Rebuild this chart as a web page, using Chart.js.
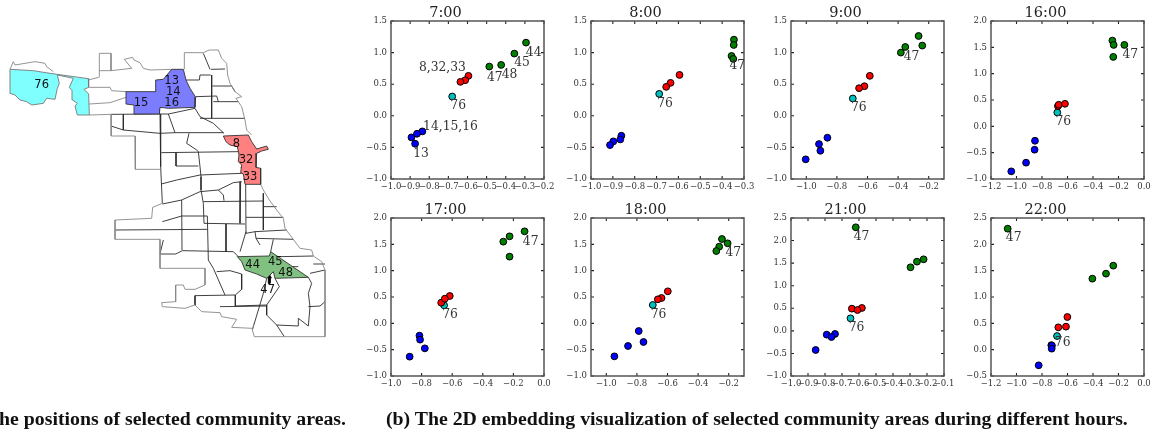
<!DOCTYPE html>
<html>
<head>
<meta charset="utf-8">
<title>Community areas</title>
<script src="https://cdn.jsdelivr.net/npm/chart.js@4"></script>
<style>
  html, body { margin: 0; padding: 0; background: #fff; overflow: hidden; }
  #page { position: relative; width: 1153px; height: 431px; overflow: hidden; }
  canvas { position: absolute; }
  .caption { position: absolute; top: 408px; font: bold 19.8px/20px "Liberation Serif", serif; color: #111; white-space: nowrap; }
</style>
</head>
<body>
<div id="page">
  <canvas id="map" width="360" height="431" style="left:0;top:0"></canvas>
  <div class="caption" style="right:807px">(a) The positions of selected community areas.</div>
  <div class="caption" style="left:386px">(b) The 2D embedding visualization of selected community areas during different hours.</div>
</div>
<script>
// Часы и оси панелей
const hours = ['7:00', '8:00', '9:00', '16:00', '17:00', '18:00', '21:00', '22:00'];
const xLimits = [[-1, -0.2], [-1, -0.3], [-1.1, -0.1], [-1.2, 0], [-1, 0], [-1.1, -0.1], [-1, -0.1], [-1.2, 0]];
const yLimits = [[-1, 1.5], [-1, 1.5], [-1, 1.5], [-1, 2], [-1, 2], [-1, 2], [-1, 2.5], [-0.5, 2.5]];
const xTicks = [
    [-1, -0.9, -0.8, -0.7, -0.6, -0.5, -0.4, -0.3, -0.2],
    [-1, -0.9, -0.8, -0.7, -0.6, -0.5, -0.4, -0.3],
    [-1, -0.8, -0.6, -0.4, -0.2],
    [-1.2, -1, -0.8, -0.6, -0.4, -0.2, 0],
    [-1, -0.8, -0.6, -0.4, -0.2, 0],
    [-1, -0.8, -0.6, -0.4, -0.2],
    [-1, -0.9, -0.8, -0.7, -0.6, -0.5, -0.4, -0.3, -0.2, -0.1],
    [-1.2, -1, -0.8, -0.6, -0.4, -0.2, 0]
];
const yTicks = [
    [-1, -0.5, 0, 0.5, 1, 1.5],
    [-1, -0.5, 0, 0.5, 1, 1.5],
    [-1, -0.5, 0, 0.5, 1, 1.5],
    [-1, -0.5, 0, 0.5, 1, 1.5, 2],
    [-1, -0.5, 0, 0.5, 1, 1.5, 2],
    [-1, -0.5, 0, 0.5, 1, 1.5, 2],
    [-1, -0.5, 0, 0.5, 1, 1.5, 2, 2.5],
    [-0.5, 0, 0.5, 1, 1.5, 2, 2.5]
];

// Точки по группам районов
const blueAreas = [
    [[-0.836, -0.247], [-0.864, -0.284], [-0.893, -0.342], [-0.874, -0.442]],
    [[-0.861, -0.316], [-0.866, -0.374], [-0.898, -0.405], [-0.913, -0.463]],
    [[-0.862, -0.347], [-0.917, -0.447], [-0.908, -0.553], [-1.004, -0.689]],
    [[-0.855, -0.274], [-0.858, -0.444], [-0.925, -0.69], [-1.041, -0.855]],
    [[-0.814, -0.234], [-0.81, -0.31], [-0.779, -0.475], [-0.878, -0.633]],
    [[-0.788, -0.146], [-0.757, -0.354], [-0.858, -0.43], [-0.947, -0.627]],
    [[-0.741, -0.069], [-0.79, -0.084], [-0.762, -0.136], [-0.855, -0.424]],
    [[-0.727, 0.085], [-0.722, 0.078], [-0.724, 0.019], [-0.826, -0.297]]
];
const redAreas = [
    [[-0.595, 0.632], [-0.612, 0.563], [-0.637, 0.537]],
    [[-0.595, 0.647], [-0.636, 0.521], [-0.656, 0.458]],
    [[-0.585, 0.632], [-0.62, 0.468], [-0.655, 0.437]],
    [[-0.675, 0.383], [-0.669, 0.409], [-0.62, 0.428]],
    [[-0.616, 0.519], [-0.672, 0.392], [-0.648, 0.468]],
    [[-0.598, 0.608], [-0.639, 0.481], [-0.663, 0.456]],
    [[-0.583, 0.507], [-0.642, 0.492], [-0.609, 0.462]],
    [[-0.601, 0.62], [-0.612, 0.437], [-0.672, 0.424]]
];
const cyanAreas = [
    [[-0.68, 0.305]], [[-0.688, 0.347]], [[-0.696, 0.274]], [[-0.68, 0.263]],
    [[-0.653, 0.342]], [[-0.696, 0.348]], [[-0.65, 0.278]], [[-0.682, 0.259]]
];
const greenAreas = [
    [[-0.294, 1.158], [-0.355, 0.984], [-0.424, 0.805], [-0.486, 0.779]],
    [[-0.346, 1.205], [-0.347, 1.121], [-0.357, 0.947], [-0.349, 0.9]],
    [[-0.266, 1.263], [-0.242, 1.111], [-0.353, 1.089], [-0.382, 1.0]],
    [[-0.248, 1.628], [-0.238, 1.546], [-0.154, 1.546], [-0.241, 1.318]],
    [[-0.127, 1.747], [-0.225, 1.652], [-0.266, 1.551], [-0.225, 1.266]],
    [[-0.244, 1.601], [-0.207, 1.519], [-0.262, 1.456], [-0.281, 1.373]],
    [[-0.619, 2.294], [-0.22, 1.585], [-0.259, 1.533], [-0.297, 1.408]],
    [[-1.069, 2.297], [-0.241, 1.595], [-0.298, 1.443], [-0.405, 1.348]]
];
// Подписи точек: текст, x, y в координатах панели
const pointNotes = [
    [['44', -0.254, 0.995], ['45', -0.315, 0.837], ['47', -0.457, 0.605], ['48', -0.38, 0.647],
     ['8,32,33', -0.731, 0.758], ['76', -0.649, 0.158], ['14,15,16', -0.689, -0.174], ['13', -0.843, -0.6]],
    [['47', -0.331, 0.789], ['76', -0.661, 0.189]],
    [['47', -0.312, 0.926], ['76', -0.657, 0.126]],
    [['47', -0.107, 1.356], ['76', -0.633, 0.087]],
    [['47', -0.087, 1.557], ['76', -0.614, 0.158]],
    [['47', -0.17, 1.342], ['76', -0.659, 0.158]],
    [['47', -0.585, 2.08], ['76', -0.615, 0.064]],
    [['47', -1.022, 2.12], ['76', -0.638, 0.139]]
];

// Карта: контуры в условных единицах карты (0..1080, 0..1293)
const mapCyan = [[30,208],[100,212],[150,220],[265,236],[266,262],[252,268],[266,282],[268,345],[232,345],[225,318],[232,310],[218,300],[216,272],[208,262],[220,235],[172,225],[178,250],[172,265],[165,298],[140,295],[130,310],[95,315],[80,305],[60,300],[45,285],[30,280],[30,208]];
const mapBlue = [[515,208],[550,208],[558,240],[570,265],[587,292],[585,322],[505,325],[480,322],[478,342],[402,342],[402,315],[378,312],[378,275],[465,275],[467,240],[490,238],[515,208]];
const mapRed = [[670,408],[745,405],[755,425],[770,447],[800,438],[805,448],[785,453],[770,460],[768,502],[782,505],[782,553],[735,553],[730,522],[722,518],[725,495],[715,485],[717,462],[712,440],[690,435],[678,425],[670,408]];
const mapGreen = [[712,770],[808,768],[812,755],[925,832],[825,835],[820,815],[800,835],[770,822],[735,810],[725,785],[712,770]];
const mapOuter = [
    [[298,232],[298,160],[333,160],[333,212],[298,212]],
    [[296,232],[265,240]],
    [[333,212],[395,205],[373,178],[398,172],[402,180],[420,188],[430,205],[450,210],[515,208]],
    [[553,208],[553,158],[610,158],[628,150],[655,150],[665,175],[680,190],[683,225],[690,250],[705,275],[725,290],[708,295],[725,320],[735,360],[740,390],[755,405]],
    [[782,553],[790,570],[808,600],[830,630],[850,655],[855,685],[870,705],[900,745],[935,750],[940,768],[965,785],[975,810],[975,1010],[763,1010],[757,990],[762,970]],
    [[268,345],[333,343],[333,378],[334,408],[405,408],[406,508],[484,508]],
    [[487,610],[458,622],[455,655],[345,660],[345,718],[480,718],[480,805],[615,805],[615,855],[585,868],[555,868],[550,855],[527,855],[527,905],[485,908],[487,920],[555,925],[585,915],[605,935],[660,938],[665,950],[710,958],[695,982],[757,985]],
    [[30,208],[40,185],[45,195],[105,185],[135,190],[140,200],[160,215]],
    [[268,262],[330,262],[335,272],[378,275]],
    [[268,312],[330,308],[378,292]]
];
const mapInner = [
    [[333,343],[480,342],[505,342],[585,325]],
    [[370,343],[370,390]],
    [[333,378],[370,390],[480,400],[525,398],[670,398]],
    [[480,342],[482,500],[487,610]],
    [[505,342],[525,398]],
    [[585,325],[600,350],[640,370],[672,400]],
    [[600,355],[735,355]],
    [[635,225],[635,355]],
    [[633,208],[675,207]],
    [[637,258],[695,258],[705,275]],
    [[640,305],[715,305]],
    [[587,290],[650,288],[655,305]],
    [[558,240],[598,240],[600,225],[632,225]],
    [[630,208],[610,160]],
    [[567,400],[560,430],[590,450],[595,455],[600,500],[603,530],[603,570],[610,610],[612,670]],
    [[484,458],[715,455]],
    [[528,458],[528,498],[595,498]],
    [[484,552],[530,540],[600,525],[725,520]],
    [[487,612],[545,600],[600,575],[655,570],[700,548],[725,545]],
    [[655,570],[670,585],[672,602]],
    [[610,605],[790,603]],
    [[722,545],[720,670]],
    [[737,553],[738,700]],
    [[790,580],[790,690]],
    [[790,620],[830,620]],
    [[738,652],[850,652]],
    [[612,670],[735,672]],
    [[545,600],[546,750]],
    [[487,665],[545,648],[622,648]],
    [[622,648],[625,780],[640,805],[675,885]],
    [[345,690],[622,688]],
    [[678,672],[678,755]],
    [[490,720],[480,762],[527,762],[547,752],[700,755],[715,770]],
    [[738,695],[720,755]],
    [[738,700],[765,695],[860,690]],
    [[765,695],[768,715],[780,735]],
    [[768,715],[880,718]],
    [[820,718],[812,755]],
    [[840,770],[940,768]],
    [[650,815],[690,812],[725,822],[725,868],[706,885],[585,887]],
    [[706,885],[706,918],[800,915]],
    [[585,887],[585,915]],
    [[660,920],[800,918]],
    [[800,835],[790,880],[757,990]],
    [[825,835],[838,860],[800,915],[800,945],[830,975],[853,1010]],
    [[830,975],[895,978],[895,955],[925,978]],
    [[925,832],[935,850],[925,880],[930,920],[925,978]],
    [[930,820],[975,810]],
    [[925,920],[960,918],[975,905]],
    [[940,792],[975,792]],
    [[467,258],[500,258],[530,268],[565,258]],
    [[467,275],[500,292],[587,292]],
    [[480,295],[478,342]],
    [[715,460],[780,455]],
    [[722,503],[770,502]],
    [[808,768],[800,832]],
    [[820,800],[895,800]],
    [[812,770],[835,835]]
];
const mapArrow = [[804,850],[805,832],[802,834],[808,822],[814,834],[811,832],[810,850],[804,850]];
const mapNotes = [['76',125,255],['13',515,243],['14',520,275],['15',423,308],['16',515,308],['8',709,431],['32',738,480],['33',750,531],['44',758,795],['45',826,786],['48',857,820],['47',803,870]];

function toPoints(list) {
    return list.map(p => ({x: p[0], y: p[1]}));
}

// Рамка и засечки внутрь, как в исходном графике
const innerTicks = {
    id: 'innerTicks',
    beforeDatasetsDraw(chart) {
        const {ctx, chartArea: a, scales: {x, y}} = chart;
        ctx.save();
        ctx.strokeStyle = '#222';
        ctx.lineWidth = 1.1;
        ctx.beginPath();
        x.ticks.forEach(t => {
            const px = x.getPixelForValue(t.value);
            ctx.moveTo(px, a.top); ctx.lineTo(px, a.top + 3);
            ctx.moveTo(px, a.bottom); ctx.lineTo(px, a.bottom - 3);
        });
        y.ticks.forEach(t => {
            const py = y.getPixelForValue(t.value);
            ctx.moveTo(a.left, py); ctx.lineTo(a.left + 3, py);
            ctx.moveTo(a.right, py); ctx.lineTo(a.right - 3, py);
        });
        ctx.stroke();
        ctx.strokeStyle = '#555';
        ctx.lineWidth = 1.5;
        ctx.strokeRect(a.left, a.top, a.right - a.left, a.bottom - a.top);
        ctx.restore();
    }
};

// Подписи у точек в координатах шкал
const notesPlugin = {
    id: 'notes',
    afterDatasetsDraw(chart, args, opts) {
        const {ctx, scales: {x, y}} = chart;
        ctx.save();
        ctx.font = opts.font;
        ctx.fillStyle = opts.color;
        ctx.textAlign = 'center';
        ctx.textBaseline = 'middle';
        opts.items.forEach(n => ctx.fillText(n[0], x.getPixelForValue(n[1]), y.getPixelForValue(n[2])));
        ctx.restore();
    }
};

function tickLabel(value) {
    return value.toFixed(1).replace('-', '\u2212');
}

function dotSet(points, color) {
    return {
        data: toPoints(points),
        backgroundColor: color,
        borderColor: '#000',
        borderWidth: 1,
        pointRadius: 3.4
    };
}

const page = document.getElementById('page');
const frameLefts = [391, 591, 791, 991];
const frameTops = [21, 218];
const frameW = 153;
const frameH = 158;
const marginLeft = 44, marginRight = 14, marginTop = 24, marginBottom = 22;

hours.forEach((hour, i) => {
    const left = frameLefts[i % 4];
    const top = frameTops[Math.floor(i / 4)];
    const canvas = document.createElement('canvas');
    canvas.width = frameW + marginLeft + marginRight;
    canvas.height = frameH + marginTop + marginBottom;
    canvas.style.left = (left - marginLeft) + 'px';
    canvas.style.top = (top - marginTop) + 'px';
    page.appendChild(canvas);

    new Chart(canvas.getContext('2d'), {
        type: 'scatter',
        plugins: [innerTicks, notesPlugin],
        data: {
            datasets: [
                dotSet(blueAreas[i], '#0000ff'),
                dotSet(redAreas[i], '#ff0000'),
                dotSet(cyanAreas[i], '#00bfbf'),
                dotSet(greenAreas[i], '#007f00')
            ]
        },
        options: {
            responsive: false,
            animation: false,
            layout: { autoPadding: false, padding: { left: 0, right: marginRight, top: 0, bottom: 0 } },
            plugins: {
                legend: { display: false },
                tooltip: { enabled: false },
                title: {
                    display: true,
                    text: hour,
                    color: '#222',
                    font: { family: '"DejaVu Serif"', size: 14.5, weight: 'normal', lineHeight: 1.2 },
                    padding: { top: 8, bottom: -1.4 }
                },
                notes: { items: pointNotes[i], font: '12.3px "DejaVu Serif"', color: '#333' }
            },
            scales: {
                x: {
                    min: xLimits[i][0],
                    max: xLimits[i][1],
                    afterBuildTicks: axis => { axis.ticks = xTicks[i].map(v => ({value: v})); },
                    afterFit: axis => { axis.height = marginBottom; },
                    grid: { display: false, drawTicks: false },
                    border: { display: false },
                    ticks: {
                        autoSkip: false,
                        maxRotation: 0,
                        padding: 3,
                        color: '#333',
                        font: { family: '"DejaVu Serif"', size: 8.5 },
                        callback: tickLabel
                    }
                },
                y: {
                    min: yLimits[i][0],
                    max: yLimits[i][1],
                    afterBuildTicks: axis => { axis.ticks = yTicks[i].map(v => ({value: v})); },
                    afterFit: axis => { axis.width = marginLeft; },
                    grid: { display: false, drawTicks: false },
                    border: { display: false },
                    ticks: {
                        autoSkip: false,
                        padding: 4,
                        color: '#333',
                        font: { family: '"DejaVu Serif"', size: 8.5 },
                        callback: tickLabel
                    }
                }
            }
        }
    });
});

// Левая карта
function mapShape(points, fillColor, lineColor) {
    return {
        data: toPoints(points),
        showLine: true,
        fill: 'shape',
        backgroundColor: fillColor,
        borderColor: lineColor,
        borderWidth: 0.9,
        pointRadius: 0,
        tension: 0
    };
}
function mapLine(points, lineColor) {
    return {
        data: toPoints(points),
        showLine: true,
        fill: false,
        borderColor: lineColor,
        borderWidth: 0.9,
        pointRadius: 0,
        tension: 0
    };
}

new Chart(document.getElementById('map').getContext('2d'), {
    type: 'scatter',
    plugins: [notesPlugin],
    data: {
        datasets: [
            mapShape(mapCyan, '#80ffff', '#777'),
            mapShape(mapBlue, '#7c7cff', '#333'),
            mapShape(mapRed, '#ff8080', '#333'),
            mapShape(mapGreen, '#80c080', '#333'),
            ...mapOuter.map(line => mapLine(line, '#888')),
            ...mapInner.map(line => mapLine(line, '#2a2a2a')),
            mapShape(mapArrow, '#000', '#000')
        ]
    },
    options: {
        responsive: false,
        animation: false,
        layout: { autoPadding: false },
        plugins: {
            legend: { display: false },
            tooltip: { enabled: false },
            notes: { items: mapNotes, font: '11.5px "DejaVu Sans"', color: '#111' }
        },
        scales: {
            x: { display: false, min: 0, max: 1080 },
            y: { display: false, min: 0, max: 1293, reverse: true }
        }
    }
});
</script>
</body>
</html>
